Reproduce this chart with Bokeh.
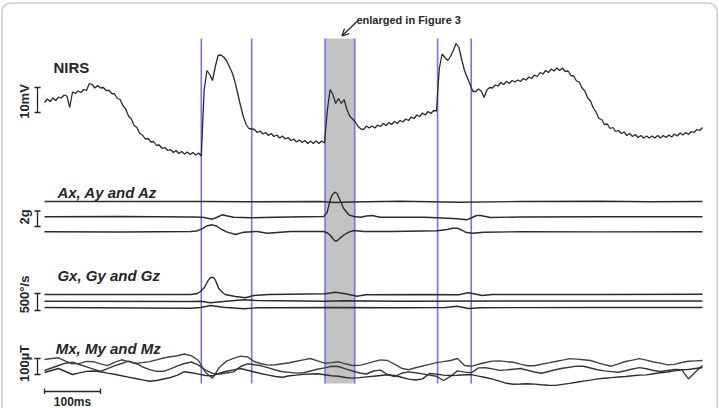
import numpy as np
from bokeh.plotting import figure
from bokeh.models import Range1d, Arrow, OpenHead, BoxAnnotation
from bokeh.core.properties import value
from bokeh.embed import file_html
from bokeh.resources import INLINE

# ---------------- data ----------------
# time in ms; traces in display units (row-style, larger = lower on page)
NIRS_DT = 5.0
nirs = [102, 98.5, 101, 97.5, 100, 96.5, 97.5, 94.5, 95.5, 107,
        91.5, 93, 90.5, 92, 89, 90, 83, 84, 87.5, 85,
        87.5, 87, 90, 90, 93, 93.5, 98, 99, 105, 108.5,
        115.5, 118.5, 125, 127, 133, 134.5, 138.5, 138, 141.5, 141,
        145, 144.5, 148, 147, 150, 149, 152, 150, 153, 151,
        153.5, 151.5, 154, 152, 154.5, 152.5, 155.5, 90, 70, 74,
        80, 66, 55, 54.5, 56.5, 60, 66, 72, 81, 93,
        105, 116, 124, 128, 128.5, 129, 132, 130.5, 133.5, 132,
        135, 133, 136, 134.5, 137.5, 135.5, 138.5, 137, 140, 138.5,
        141.5, 139.5, 142, 140, 143, 140.5, 143, 140.5, 143, 140.5,
        142.5, 110, 89, 94, 103, 98, 103, 99, 109, 115.5,
        118.5, 121.5, 126, 128.5, 129, 125.5, 127.5, 125.5, 127.5, 124.5,
        126, 123, 125, 122, 124, 121, 123, 120, 121.5, 118.5,
        120, 116.5, 118, 114.5, 116, 112.5, 114.5, 111, 113, 110,
        110.5, 68, 53.5, 57, 60, 56, 50, 43, 47, 59,
        70, 77, 84, 91, 91, 88.5, 90.5, 97, 89.5, 87,
        87.5, 84.5, 85.5, 82, 84, 81, 83, 80, 81.5, 79.5,
        81, 78, 79.5, 76.5, 78, 74.5, 76, 72, 73.5, 70,
        72, 68.5, 70.5, 67.5, 70, 67.5, 71, 70.5, 75, 75.5,
        80.5, 81.5, 87.5, 90.5, 97.5, 100.5, 107.5, 111.5, 118, 119,
        124, 123.5, 128, 127, 131, 130, 133, 131.5, 135, 133,
        136, 134, 137, 135, 137.5, 135.5, 137.5, 135.5, 137.5, 135,
        137.5, 135, 137, 134.5, 136.5, 133.5, 135.5, 132.5, 134.5, 132,
        134, 131, 132, 129, 130, 127]

ax_t = [0, 279, 368, 493, 520, 546, 636, 743, 850, 993, 1082, 1175]
ax_v = [201, 201, 201.3, 201, 202, 201.5, 200.8, 201.8, 201, 200.8, 201.3, 201]

ay_t = [0, 135.7, 260.7, 281.6, 289.3, 299.5, 307.1, 317.3, 326.8, 338, 367.9, 408.9,
        498.8, 504.8, 510.7, 514.3, 518.4, 522.3, 525.5, 530.4, 534.5, 543.4, 552.3,
        564.3, 575, 585.2, 592.9, 600, 677.3, 701.3, 737, 753.6, 763.8, 771.4, 778.6,
        787.5, 796.4, 850, 992.9, 1175]
ay_v = [216.3, 216, 216.5, 216.7, 217.5, 218.7, 217, 214.3, 215.5, 216.7, 217.3, 216.7,
        216, 211.7, 198.3, 194, 191.7, 193, 196.7, 203, 208.3, 214.3, 216,
        216.7, 215.5, 215, 216, 216.7, 216.7, 217.3, 218.3, 219.3, 217, 215, 215,
        216, 217, 216.5, 216.2, 216.3]

az_t = [0, 135.7, 260.7, 271.4, 281.6, 289.3, 299.5, 307.1, 314.3, 326.3, 341.1, 355.9,
        379.8, 397.7, 439.3, 498.8, 505.4, 510.7, 516.1, 519.6, 523.2, 528.6, 535.7,
        543.4, 552.3, 570.2, 618.6, 701.3, 719.1, 728.6, 737, 744.6, 751.8, 763.8,
        784.5, 850, 992.9, 1175]
az_v = [231.3, 231.5, 231, 230.5, 228.3, 225.5, 224.3, 225.5, 228.3, 231.7, 234, 231.7,
        231, 232.7, 231, 231, 232.5, 235, 239, 240.7, 240, 237.3, 234,
        231.7, 230, 231, 231, 230.3, 229, 227.8, 227.7, 229.5, 231.7, 232.7,
        231.7, 231.2, 231.4, 231.2]

gx_t = [0, 135.7, 260.7, 271.4, 278.6, 285.7, 290.5, 294.6, 299.5, 302.7, 305.4, 311.3,
        318.4, 322.7, 340.7, 358.6, 373.6, 400.4, 501.6, 519.4, 537.3, 558.2, 573.0,
        680.2, 739.8, 756.4, 766.6, 781.4, 799.3, 992.9, 1175]
gx_v = [294, 294, 294, 293.3, 291, 287, 281.7, 278, 276.7, 277.5, 280, 288.3,
        292.3, 294, 296, 297.3, 295, 294, 293.3, 291.7, 293.3, 295.7, 294.3,
        294, 294.3, 292.3, 293.3, 295, 294, 294, 293.8]

gy_t = [0, 260.7, 278.6, 296.4, 319.3, 355.9, 379.8, 498.8, 537.5, 635.7, 814.3, 1175]
gy_v = [300.7, 301, 300.7, 302.3, 301, 299.3, 300, 300.7, 300.3, 300.7, 300.5, 300.5]

gz_t = [0, 260.7, 278.6, 296.4, 319.3, 355.9, 379.8, 510.7, 635.7, 716.1, 737, 757.1,
        778.6, 992.9, 1175]
gz_v = [307, 307.7, 307, 305, 306.7, 308.3, 307.3, 307, 307.3, 307, 305.7, 308,
        307.2, 307, 307]

MAG_DT = 12.5
mx = [359, 358, 357.3, 360.6, 363.4, 362.9, 360.9, 361.2, 363.4, 365.1, 361.8, 359.3,
      361.1, 363, 362.1, 361.1, 359.4, 357.5, 356.2, 355.2, 353.5, 355.4, 360, 372,
      377.6, 366.7, 360.6, 357.9, 355.7, 356.4, 361.3, 363.2, 364.6, 364.3, 363.2,
      362.2, 360.8, 359.4, 358, 360.3, 362.7, 362.1, 361.3, 363.3, 365, 364.9, 363.1,
      361.1, 359.4, 360, 363.6, 367.7, 369.2, 367.3, 365.5, 363.9, 362.1, 361.1, 360,
      358, 365, 365.8, 363.7, 362, 360.6, 360.4, 361.1, 361.8, 363.6, 365.2, 365.2,
      363.8, 362.4, 361, 359.6, 358.1, 358.6, 359.3, 360, 362.1, 364.2, 365.7, 363.3,
      361, 359.6, 358.1, 359.6, 361.5, 362.6, 364.4, 363.9, 362, 360.8, 360.4, 360]
my = [370, 367.5, 365, 362.7, 361.7, 364, 366.3, 368.7, 371, 368.2, 365.4, 363,
      360.7, 362.7, 366.4, 369.1, 370.9, 370.8, 368.4, 365.3, 363, 361.5, 364.6, 369.6,
      372.9, 373.5, 372.5, 371.4, 366, 363.3, 364.2, 365.3, 367.4, 369.5, 371.2,
      371.9, 372.6, 372.3, 370.5, 368.8, 367.4, 365.8, 366, 368.3, 370.5, 372.5, 373.5,
      370.5, 369.6, 374, 376.2, 372.8, 371.4, 372.3, 373.4, 374.6, 375.8, 380, 375.8,
      370.4, 371.6, 372.3, 367.4, 367.2, 368.4, 369.9, 369.4, 368.7, 368, 369.8, 371.5,
      372.8, 371, 369.3, 367.7, 366.7, 365.6, 365.8, 367.5, 369.3, 370.4, 371.1, 371.8,
      370.2, 368.5, 367.1, 368.2, 370, 371, 370, 369, 369.1, 378.4, 371.5, 365]
mz = [372, 370, 368, 371, 374, 372.4, 370.9, 370.5, 371.3, 372.6, 373.8, 375.2,
      376.6, 378, 379.4, 380.8, 380, 378.5, 377, 374.6, 371.2, 372.3, 373.6, 375,
      375.3, 372.6, 370.8, 369.4, 368, 369.8, 371.5, 373.2, 374.6, 376, 376.7,
      375.2, 374.6, 373.9, 373.5, 373.2, 374.2, 375.3, 375.7, 377, 377.6, 377.1, 376.4,
      375.7, 375, 374.3, 375, 376.8, 378.6, 379.5, 378.4, 373, 373.6, 374.6, 375,
      374.7, 374.3, 374.1, 375.6, 377, 378.6, 380.7, 382.8, 383.7, 383.5, 383.2, 383.6,
      384.2, 384.7, 384.9, 383.9, 382.9, 381.8, 380.6, 379.6, 378.4, 377.7, 377.1, 376.5,
      376, 375.3, 374.6, 374.4, 373.3, 372.3, 371.5, 370.4, 369.3, 369, 368, 367]

event_start = [280, 501, 702]
event_end = [370, 554, 762]
enlarged_event = 1
scale_ms = 100

# ---------------- figure ----------------
p = figure(width=719, height=408, x_range=Range1d(-78.6, 1205.4), y_range=Range1d(408, 0),
           x_axis_location=None, y_axis_location=None, min_border=0,
           toolbar_location=None, output_backend="svg")
p.grid.visible = False
p.outline_line_color = None
p.background_fill_color = "white"

FONT = value("Liberation Sans")
INK = "#262626"
TRACE = "#2b2b2b"
BLUE = "#7373f5"

# outer frame
p.add_layout(BoxAnnotation(left=-76, right=1201.5, top=2.5, bottom=440,
                           fill_alpha=0, line_color="#5a5a5a", line_width=1.6,
                           border_radius=9))

# enlarged band
p.quad(left=[event_start[enlarged_event]], right=[event_end[enlarged_event]],
       top=[38], bottom=[383], fill_color="#c3c3c3", line_color=None)

# event lines
ev = event_start + event_end
p.segment(x0=ev, y0=[38] * len(ev), x1=ev, y1=[383] * len(ev),
          line_color=BLUE, line_width=1.6)

# traces
t_nirs = np.arange(len(nirs)) * NIRS_DT
p.line(t_nirs, nirs, line_color=TRACE, line_width=1.3)
for tt, vv in [(ax_t, ax_v), (ay_t, ay_v), (az_t, az_v),
               (gx_t, gx_v), (gy_t, gy_v), (gz_t, gz_v)]:
    p.line(tt, vv, line_color=TRACE, line_width=1.4)
t_mag = np.arange(len(mx)) * MAG_DT
for vv, col in [(mx, "#444444"), (my, "#3a3a3a"), (mz, "#2e2e2e")]:
    p.line(t_mag, vv, line_color=col, line_width=1.4)

# titles
def label(x, y, txt, style="bold", size="15px", align="left", angle=0.0):
    p.text(x=[x], y=[y], text=[txt], text_font=FONT, text_font_style=style,
           text_font_size=size, text_color=INK, text_align=align,
           text_baseline="middle", angle=angle)

label(16, 67, "NIRS")
label(23, 192, "Ax, Ay and Az", style="bold italic")
label(23, 275, "Gx, Gy and Gz", style="bold italic")
label(20, 348, "Mx, My and Mz", style="bold italic")

# vertical scale bars
xb = -12.5
for (y0, y1), txt, yc in [((87, 112), "10mV", 101),
                          ((210.5, 226), "2g", 216.5),
                          ((293, 310), "500°/s", 294),
                          ((358, 374), "100µT", 363)]:
    p.segment(x0=[xb], y0=[y0], x1=[xb], y1=[y1], line_color=INK, line_width=1.3)
    p.segment(x0=[xb - 5.5, xb - 5.5], y0=[y0, y1], x1=[xb + 5.5, xb + 5.5], y1=[y0, y1],
              line_color=INK, line_width=1.3)
    label(-35, yc, txt, size="13px", align="center", angle=np.pi / 2)

# time scale bar
p.segment(x0=[0], y0=[391], x1=[scale_ms], y1=[391], line_color=INK, line_width=1.3)
p.segment(x0=[0, scale_ms], y0=[388, 388], x1=[0, scale_ms], y1=[393.5, 393.5],
          line_color=INK, line_width=1.3)
label(scale_ms / 2, 401, "100ms", size="12px", align="center")

# annotation
label(557, 19, "enlarged in Figure 3", size="11px")
p.add_layout(Arrow(end=OpenHead(size=7, line_color=INK, line_width=1.3),
                   x_start=558, y_start=21, x_end=531, y_end=35.5,
                   line_color=INK, line_width=1.3))

open("out.html", "w").write(file_html(p, INLINE))
